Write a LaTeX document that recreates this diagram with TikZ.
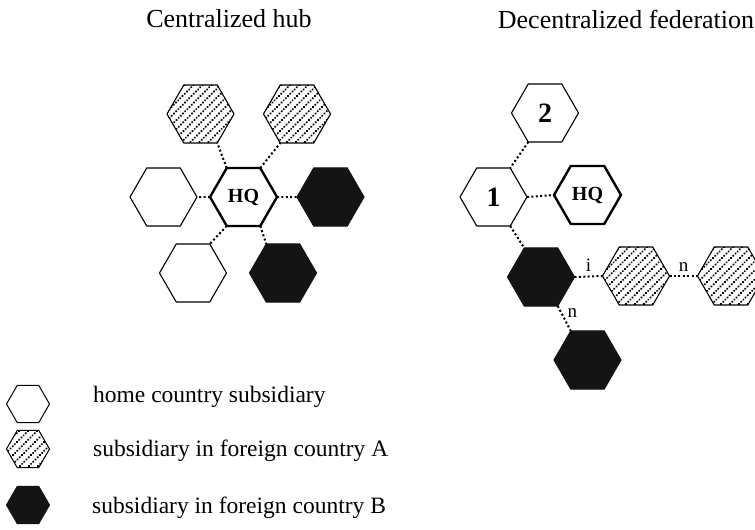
\documentclass[tikz,border=0pt]{standalone}
\usepackage{fontspec}
\setmainfont{Liberation Serif}
\usetikzlibrary{shapes.geometric, positioning}
\definecolor{subblack}{HTML}{141414}

\tikzset{
  hexa/.style={regular polygon, regular polygon sides=6, minimum size=67pt,
    inner sep=0pt, outer sep=0pt, draw=black, line width=1.1pt},
  homesub/.style={hexa, fill=white},
  hqsub/.style={hexa, line width=2.4pt, font=\fontsize{20}{20}\selectfont\bfseries},
  numsub/.style={hexa, font=\fontsize{28}{28}\selectfont\bfseries},
  foreignA/.style={hexa, path picture={
    \foreach \k in {-99,-90,...,99}
      \draw[shift={(path picture bounding box.center)}, line width=2.2pt, line cap=round,
        dash pattern=on 0.2pt off 2.9pt] (\k pt-50pt,-50pt) -- ++(100pt,100pt);}},
  foreignB/.style={hexa, draw=subblack, fill=subblack},
  keyhex/.style={minimum size=43pt, line width=1pt},
  link/.style={line width=2pt, dash pattern=on 2pt off 2.4pt},
  tag/.style={font=\fontsize{19}{19}\selectfont, inner sep=1pt},
  title/.style={font=\fontsize{26}{26}\selectfont},
  keytext/.style={font=\fontsize{23.5}{23.5}\selectfont, anchor=west, inner sep=0pt},
}

\begin{document}
\begin{tikzpicture}[x=1pt, y=-1pt]
  \useasboundingbox (0,0) rectangle (755,530);

  \node[title] (titlehub) at (229,19) {Centralized hub};
  \node[title] (titlefed) at (626,19) {Decentralized federation};

  % centralized hub
  \node[hqsub] (hq) at (243.5,197) {HQ};
  \node[foreignA] (hubA1) at (200.5,114) {};
  \node[foreignA] (hubA2) at (297,114) {};
  \node[homesub] (hubH1) at (163.5,197) {};
  \node[foreignB] (hubB1) at (330.5,197) {};
  \node[homesub] (hubH2) at (193,273) {};
  \node[foreignB] (hubB2) at (283,273) {};

  \draw[link] (hq.120) -- (hubA1.300);
  \draw[link] (hq.60) -- (hubA2.240);
  \draw[link] (hq.180) -- (hubH1.0);
  \draw[link] (hq.0) -- (hubB1.180);
  \draw[link] (hq.240) -- (hubH2.60);
  \draw[link] (hq.300) -- (hubB2.120);

  % decentralized federation
  \node[numsub] (fed2) at (545,113) {2};
  \node[numsub] (fed1) at (493.5,197) {1};
  \node[hqsub] (fedhq) at (587.5,195) {HQ};
  \node[foreignB] (fedB1) at (541,277) {};
  \node[foreignA] (fedA1) at (636,276) {};
  \node[foreignA] (fedA2) at (731,276) {};
  \node[foreignB] (fedB2) at (587.5,360) {};

  \draw[link] (fed2.240) -- (fed1.60);
  \draw[link] (fed1.0) -- (fedhq.180);
  \draw[link] (fed1.300) -- (fedB1.120);
  \draw[link] (fedB1.0) -- node[tag, above=3pt] (tagi) {i} (fedA1.180);
  \draw[link] (fedA1.0) -- node[tag, above=3pt] (tagn1) {n} (fedA2.180);
  \draw[link] (fedB1.300) -- node[tag, pos=0.3, right=4pt] (tagn2) {n} (fedB2.120);

  % legend
  \node[homesub, keyhex] (keyhome) at (28,404) {};
  \node[foreignA, keyhex] (keyA) at (28,449) {};
  \node[foreignB, keyhex] (keyB) at (28,505) {};
  \node[keytext] (texthome) at (93,397) {home country subsidiary};
  \node[keytext] (textA) at (93,451) {subsidiary in foreign country A};
  \node[keytext] (textB) at (92,508) {subsidiary in foreign country B};
\end{tikzpicture}
\end{document}
